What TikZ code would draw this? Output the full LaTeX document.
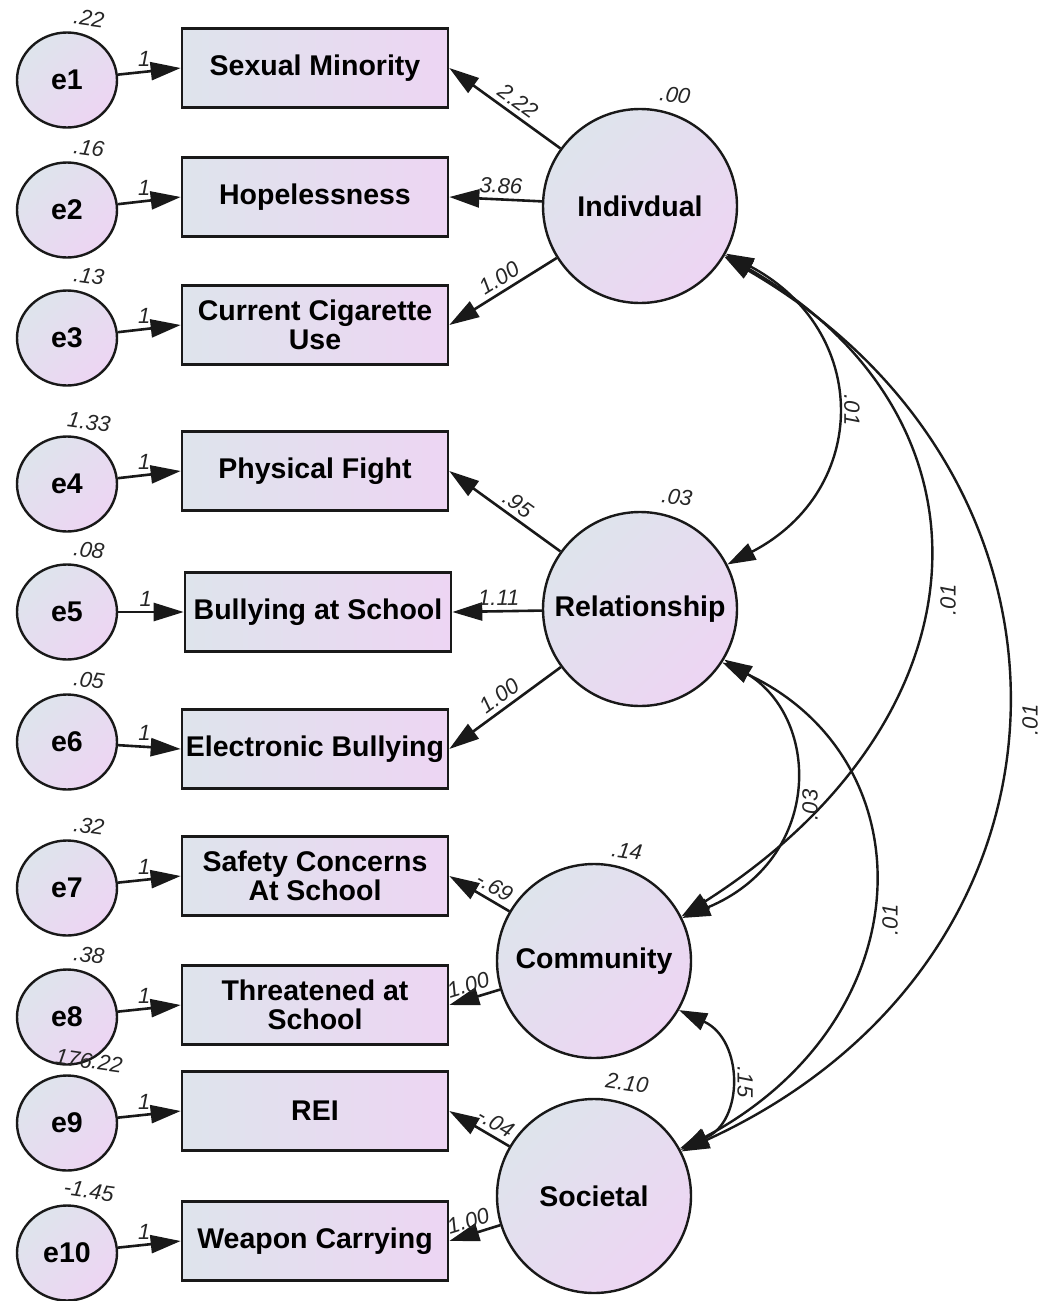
\documentclass[tikz,border=0pt]{standalone}
\usepackage{fontspec}
\setmainfont{Liberation Sans}
\usetikzlibrary{arrows.meta,shapes.geometric,calc}
\definecolor{cA}{RGB}{222,228,236}
\definecolor{cB}{RGB}{237,213,243}
\definecolor{inkc}{RGB}{25,25,25}
\begin{document}
\begin{tikzpicture}[x=1pt,y=-1pt,
  every node/.style={font=\fontsize{28.5}{29}\selectfont\bfseries, text=black},
  obs/.style={draw=inkc, line width=2.6pt, rectangle, minimum width=266pt, minimum height=79pt, inner sep=0pt, left color=cA, right color=cB, align=center},
  err/.style={draw=inkc, line width=2.4pt, ellipse, minimum width=100pt, minimum height=95pt, inner sep=0pt, left color=cA, right color=cB, shading angle=45},
  lat/.style={draw=inkc, line width=2.4pt, circle, minimum size=194pt, inner sep=0pt, left color=cA, right color=cB, shading angle=45},
  lab/.style={font=\fontsize{22}{24}\selectfont\itshape, text=black!85, inner sep=1.5pt},
  arr/.style={draw=inkc, line width=2.6pt, -{Triangle[length=30pt,width=18pt]}},
  cov/.style={draw=inkc, line width=2.4pt, {Triangle[length=28pt,width=18pt]}-{Triangle[length=28pt,width=18pt]}}
]
\useasboundingbox[fill=white] (0,0) rectangle (1043,1301);

% error terms
\node[err] (e1) at (67,80) {e1};
\node[err] (e2) at (67,210) {e2};
\node[err] (e3) at (67,338) {e3};
\node[err] (e4) at (67,484) {e4};
\node[err] (e5) at (67,612) {e5};
\node[err] (e6) at (67,742) {e6};
\node[err] (e7) at (67,888) {e7};
\node[err] (e8) at (67,1017) {e8};
\node[err] (e9) at (67,1123) {e9};
\node[err] (e10) at (67,1253) {e10};

% observed variables
\node[obs] (o1) at (315,68) {Sexual Minority};
\node[obs] (o2) at (315,197) {Hopelessness};
\node[obs] (o3) at (315,325) {Current Cigarette\\Use};
\node[obs] (o4) at (315,471) {Physical Fight};
\node[obs] (o5) at (318,612) {Bullying at School};
\node[obs] (o6) at (315,749) {Electronic Bullying};
\node[obs] (o7) at (315,876) {Safety Concerns\\At School};
\node[obs] (o8) at (315,1005) {Threatened at\\School};
\node[obs] (o9) at (315,1111) {REI};
\node[obs] (o10) at (315,1241) {Weapon Carrying};

% latent variables
\node[lat] (ind) at (640,206) {Indivdual};
\node[lat] (rel) at (640,609) {Relationship};
\node[lat] (com) at (594,961) {Community};
\node[lat] (soc) at (594,1196) {Societal};

% error variances
\foreach \e/\v in {e1/.22, e2/.16, e3/.13, e4/1.33, e5/.08, e6/.05, e7/.32, e8/.38, e9/176.22, e10/-1.45}
  \node[lab, rotate=-8] at ($(\e)+(22,-62)$) {\v};

% latent variances
\node[lab, rotate=-8] at ($(ind)+(35,-111)$) {.00};
\node[lab, rotate=-8] at ($(rel)+(37,-112)$) {.03};
\node[lab, rotate=-8] at ($(com)+(33,-110)$) {.14};
\node[lab, rotate=-8] at ($(soc)+(33,-113)$) {2.10};

% error paths
\foreach \i in {1,...,10}
  \draw[arr] (e\i) -- node[lab, above=3pt, pos=.42]{1} (o\i.west);

% loadings
\draw[arr] (ind) -- node[lab, sloped, above=3pt, pos=.45]{2.22} (o1.east);
\draw[arr] (ind) -- node[lab, sloped, above=3pt, pos=.45]{3.86} (o2.east);
\draw[arr] (ind) -- node[lab, sloped, above=3pt, pos=.47]{1.00} (o3.east);
\draw[arr] (rel) -- node[lab, sloped, above=3pt, pos=.45]{.95} (o4.east);
\draw[arr] (rel) -- node[lab, sloped, above=3pt, pos=.48]{1.11} (o5.east);
\draw[arr] (rel) -- node[lab, sloped, above=3pt, pos=.48]{1.00} (o6.east);
\draw[arr] (com) -- node[lab, sloped, above=3pt, pos=.36]{-.69} (o7.east);
\draw[arr] (com) -- node[lab, sloped, above=3pt, pos=.55]{1.00} (o8.east);
\draw[arr] (soc) -- node[lab, sloped, above=3pt, pos=.34]{-.04} (o9.east);
\draw[arr] (soc) -- node[lab, sloped, above=3pt, pos=.55]{1.00} (o10.east);

% covariances
\draw[cov] (ind.-29) .. controls (871,330) and (871,490) .. (rel.27);
\draw[cov] (ind.-30) .. controls (1010,420) and (990,720) .. (com.27);
\draw[cov] (ind.-31) .. controls (1110,480) and (1100,960) .. (soc.27);
\draw[cov] (rel.-31) .. controls (822,720) and (822,860) .. (com.26);
\draw[cov] (rel.-33) .. controls (930,760) and (925,1020) .. (soc.28);
\draw[cov] (com.-30) .. controls (744,1040) and (744,1122) .. (soc.29);

\node[lab, rotate=-90] at (852,410) {.01};
\node[lab, rotate=90] at (948,600) {.01};
\node[lab, rotate=90] at (1030,720) {.01};
\node[lab, rotate=90] at (810,805) {.03};
\node[lab, rotate=90] at (890,920) {.01};
\node[lab, rotate=-90] at (745,1082) {.15};
\end{tikzpicture}
\end{document}
